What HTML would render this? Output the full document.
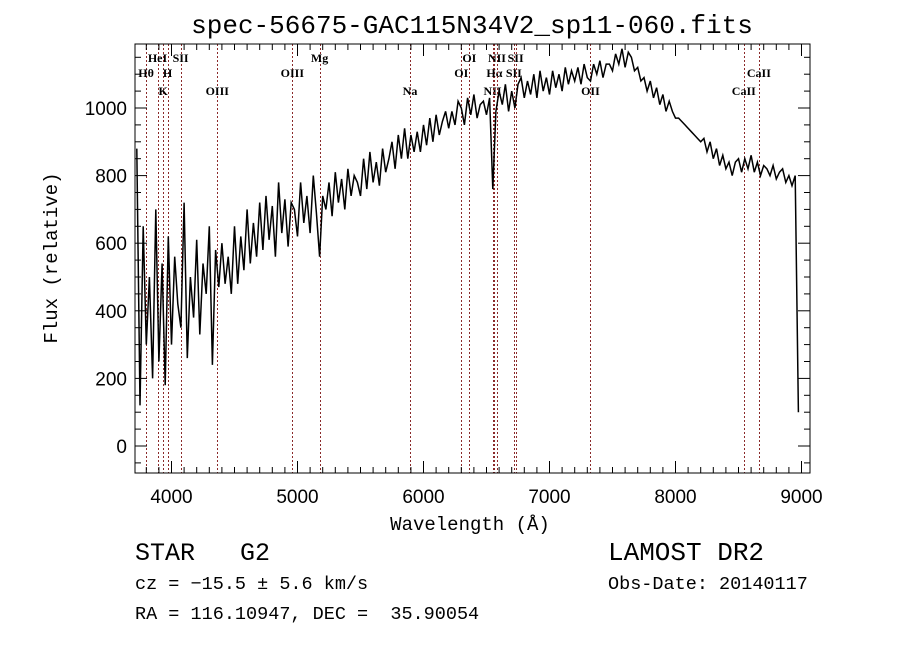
<!DOCTYPE html>
<html><head><meta charset="utf-8"><style>
body{margin:0;background:#fff;width:900px;height:649px;overflow:hidden}
svg{display:block}
text{white-space:pre}
</style></head><body>
<svg id="c" width="900" height="649" xmlns="http://www.w3.org/2000/svg" xml:space="preserve">
<text x="472" y="33" font-family="Liberation Mono, monospace" font-size="26" text-anchor="middle">spec-56675-GAC115N34V2_sp11-060.fits</text>
<text x="470" y="530" font-family="Liberation Mono, monospace" font-size="19" text-anchor="middle">Wavelength (Å)</text>
<text transform="translate(57,258) rotate(-90)" font-family="Liberation Mono, monospace" font-size="19" text-anchor="middle">Flux (relative)</text>
<g font-family="Liberation Mono, monospace">
<text x="135" y="560" font-size="25">STAR   G2</text>
<text x="135" y="589" font-size="18.5">cz = −15.5 ± 5.6 km/s</text>
<text x="135" y="619" font-size="18.5">RA = 116.10947, DEC =  35.90054</text>
<text x="608" y="560" font-size="26">LAMOST DR2</text>
<text x="608" y="589" font-size="18.5">Obs-Date: 20140117</text>
</g>
<g id="plot"></g>
</svg>
<script>
const wlStart = 3725, wlStep = 25;
const flux = [
880,120,650,300,500,200,700,250,540,180,
620,300,560,420,350,720,260,500,380,610,
330,540,450,650,240,580,470,600,480,560,
450,650,480,620,520,700,540,660,560,720,
580,740,610,710,560,780,630,730,590,720,
700,620,780,660,740,630,800,690,560,740,
700,780,680,810,720,790,700,820,740,800,
780,740,850,760,870,780,840,770,880,810,
850,900,820,920,850,940,850,920,870,930,
870,950,890,970,900,980,920,960,990,940,
990,950,1020,1000,950,1030,980,1040,970,1010,
1020,980,1030,760,990,1050,1010,1070,990,1050,
1000,1070,1090,1030,1080,1040,1100,1030,1110,1050,
1090,1040,1110,1060,1100,1050,1120,1070,1110,1080,
1120,1070,1130,1090,1080,1130,1100,1140,1090,1130,
1130,1110,1160,1130,1175,1120,1165,1150,1110,1120,
1080,1090,1050,1080,1030,1060,1010,1040,990,1020,
990,970,970,960,950,940,930,920,910,900,
910,870,900,850,880,830,860,820,840,800,
840,850,810,850,820,860,810,840,800,830,
820,800,830,790,810,820,780,800,770,800,
100];
const lineWl = [3798,3889,3934,3969,4072,4363,4959,5175,5893,6300,6364,6548,6563,6583,6717,6731,7325,8542,8662];
const lineLabels = ["Hθ","HeI","K","H","SII","OIII","OIII","Mg","Na","OI","OI","NII","Hα","NII","SII","SII","OII","CaII","CaII"];
const lineRows = [2,1,3,2,1,3,2,1,3,2,1,3,2,1,2,1,3,3,2];
const xTicks = [4000,5000,6000,7000,8000,9000];
const yTicks = [0,200,400,600,800,1000];

const L=135,R=810,T=44,B=473;
const x=w=>171.5+(w-4000)*0.126;
const y=v=>446-v*0.338;
const NS="http://www.w3.org/2000/svg";
const g=document.getElementById('plot');
function mk(t,a){const e=document.createElementNS(NS,t);for(const k in a)e.setAttribute(k,a[k]);g.appendChild(e);return e;}
lineWl.forEach((w,i)=>{
 const px=Math.round(x(w))+0.5;
 const l=mk('line',{x1:px,x2:px,y1:T,y2:B,stroke:'#8b2a2a','stroke-width':1,'stroke-dasharray':'2,2'});
 
 
 const ty=[0,62,77,95][lineRows[i]];
 const t=mk('text',{x:x(w),y:ty,'font-family':'Liberation Serif, serif','font-size':12,'font-weight':'bold','text-anchor':'middle'});
 t.textContent=lineLabels[i];
 
 
});
let pts=[];
flux.forEach((v,i)=>{pts.push(x(wlStart+i*wlStep).toFixed(1)+','+y(v).toFixed(1));});
const p=mk('polyline',{points:pts.join(' '),fill:'none',stroke:'#000','stroke-width':1.5});


const f=mk('rect',{x:L,y:T,width:R-L,height:B-T,fill:'none',stroke:'#000','stroke-width':1});


for(let w=3800;w<=9000;w+=100){
 const major=w%1000===0, len=major?12:6;
 mk('line',{x1:x(w),x2:x(w),y1:B,y2:B-len,stroke:'#000'});
 mk('line',{x1:x(w),x2:x(w),y1:T,y2:T+len,stroke:'#000'});
}
xTicks.forEach(w=>{
 const t=mk('text',{x:x(w),y:503,'font-family':'Liberation Sans, sans-serif','font-size':19,'text-anchor':'middle'});
 t.textContent=w;
 
 
});
for(let v=-50;v<=1150;v+=50){
 const major=v%200===0, len=major?12:6;
 mk('line',{x1:L,x2:L+len,y1:y(v),y2:y(v),stroke:'#000'});
 mk('line',{x1:R,x2:R-len,y1:y(v),y2:y(v),stroke:'#000'});
}
yTicks.forEach(v=>{
 const t=mk('text',{x:127,y:y(v)+7,'font-family':'Liberation Sans, sans-serif','font-size':19,'text-anchor':'end'});
 t.textContent=v;
 
 
});
</script>
</body></html>
